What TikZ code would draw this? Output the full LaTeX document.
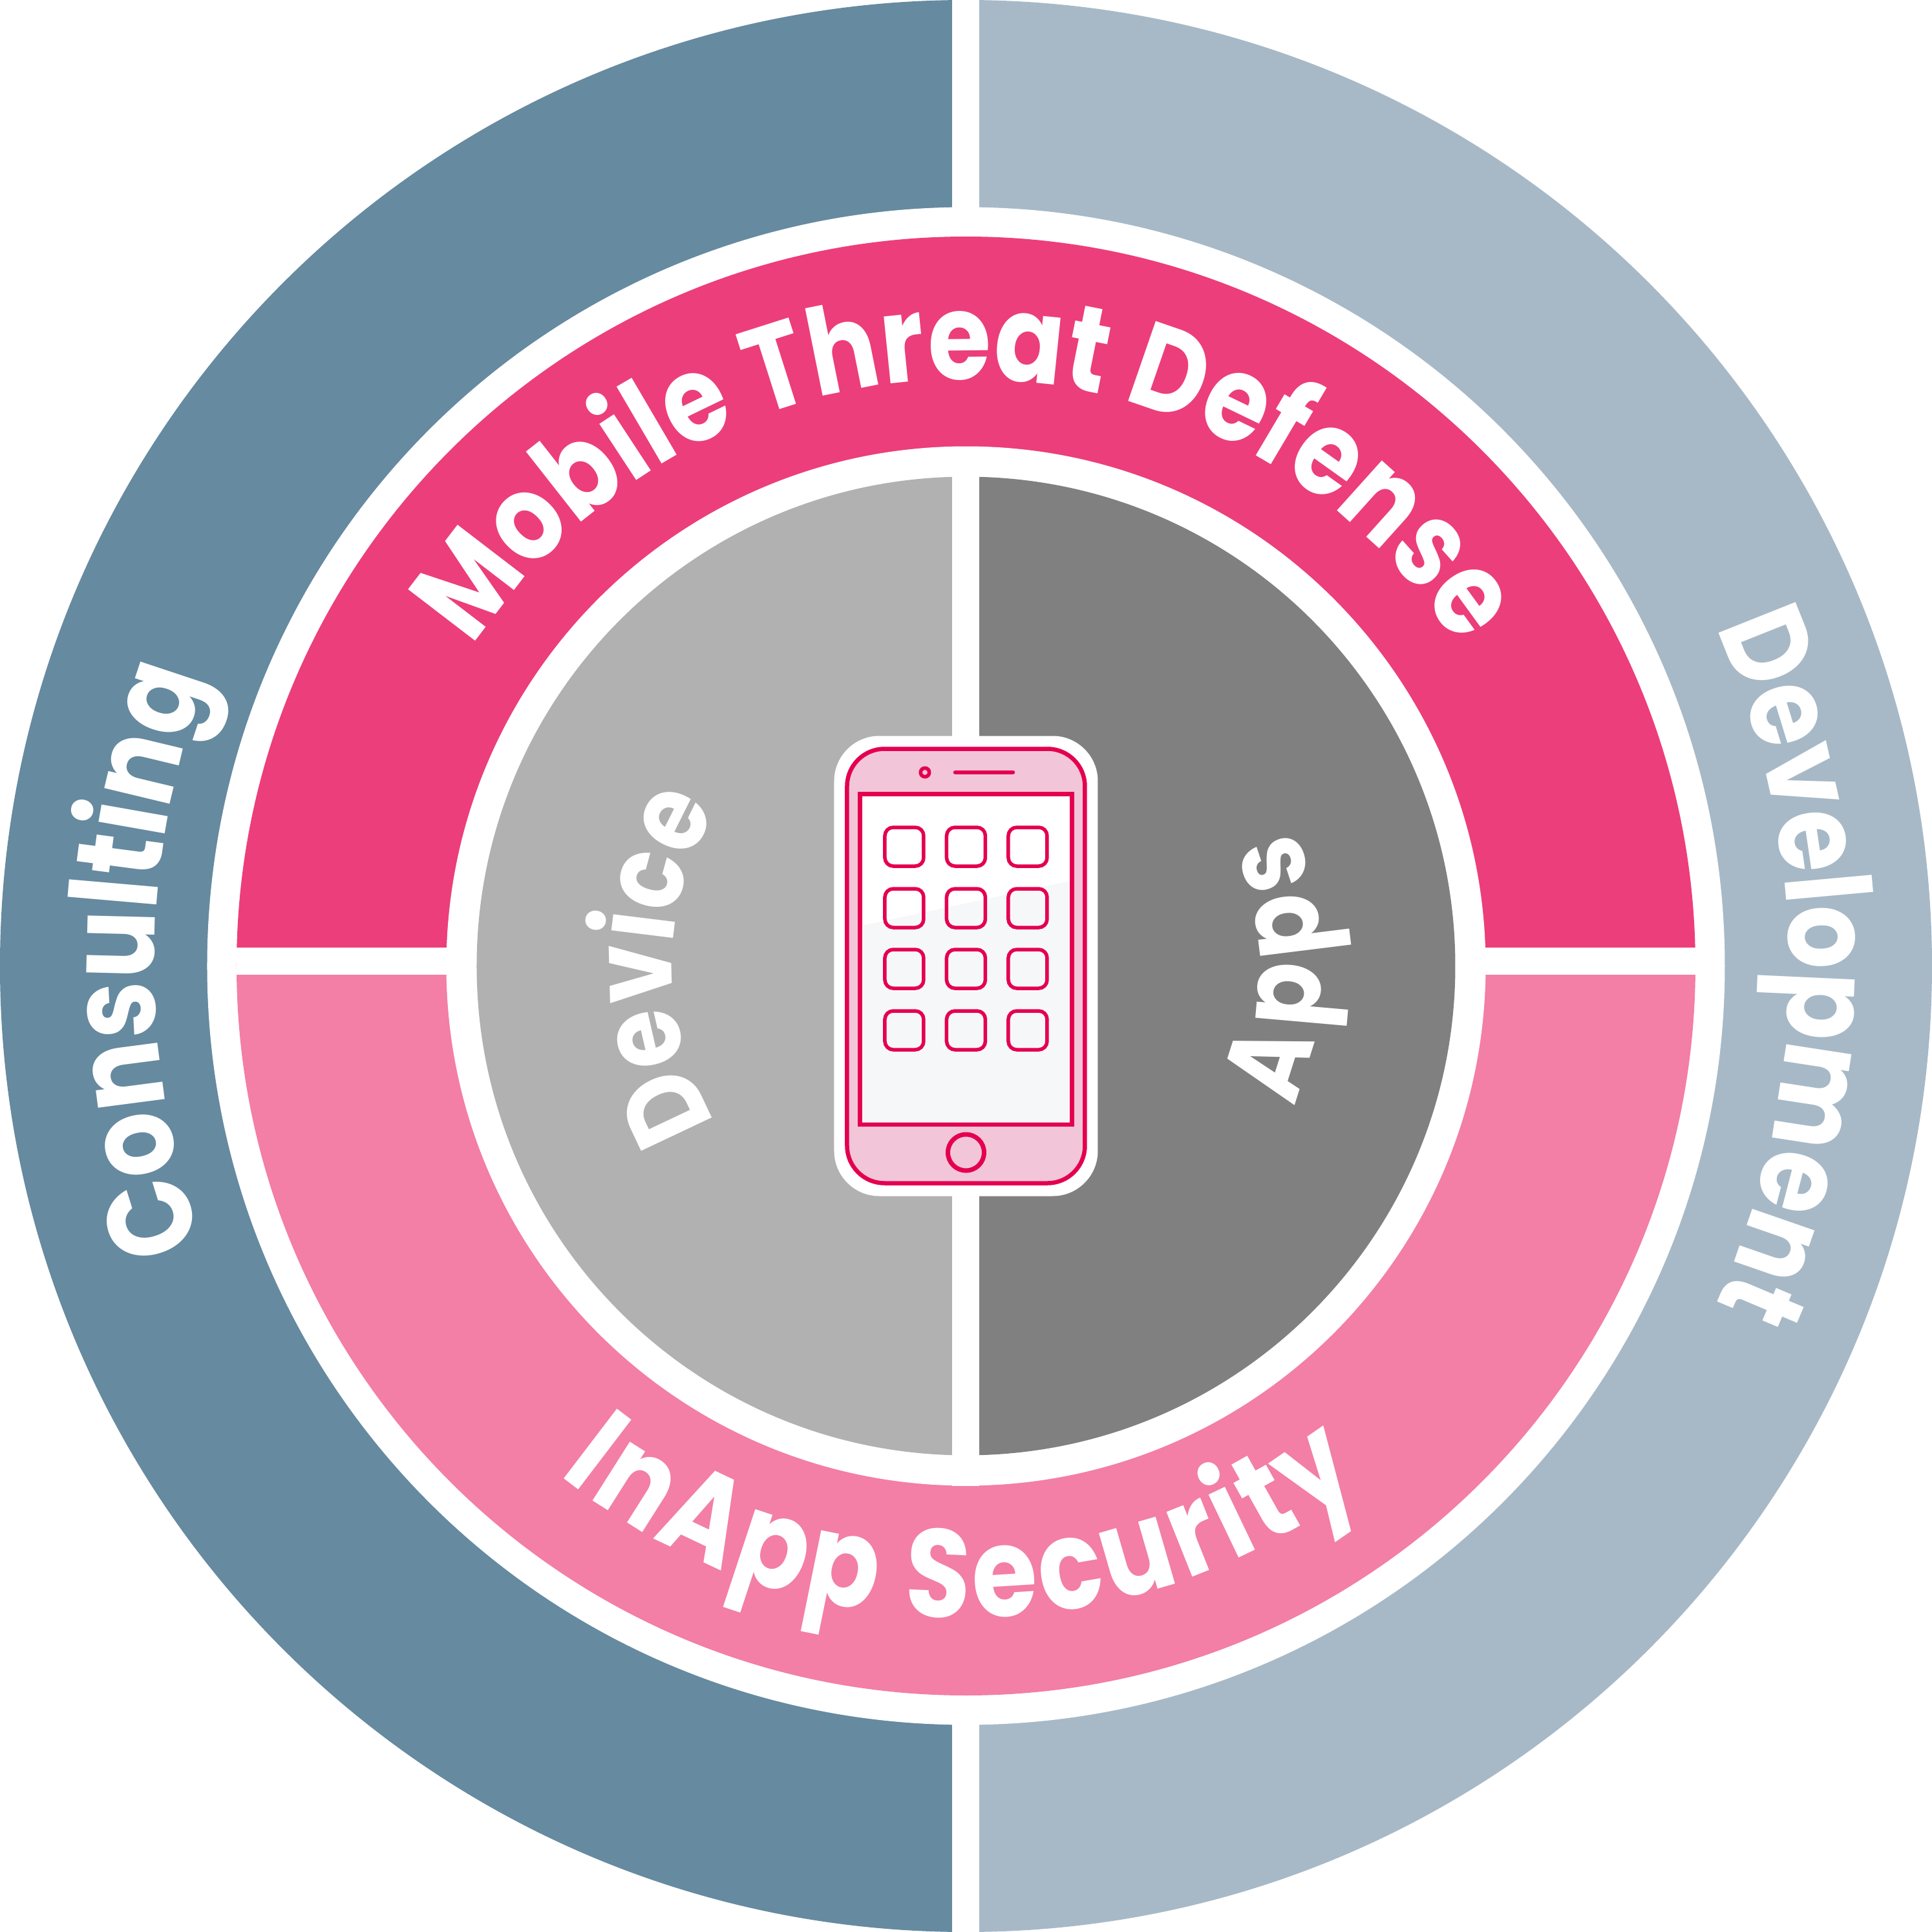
\documentclass[tikz,border=0pt]{standalone}
\usepackage{fontspec}
\usetikzlibrary{positioning}
\usetikzlibrary{decorations.text}
\newfontfamily\ringfam{Poppins}[FakeStretch=0.85]
\newcommand{\ringfont}[1]{\ringfam\bfseries\fontsize{#1}{60}\selectfont\color{white}}
\newcommand{\ringtext}[5][53]{\path[decorate,decoration={text along path,text align={fit to path},text={|\ringfont{#1}|#5}}] (#3:#2) arc[start angle=#3,end angle=#4,radius=#2];}
\definecolor{tealdark}{HTML}{668AA0}
\definecolor{teallight}{HTML}{A7B9C7}
\definecolor{pinkdark}{HTML}{EC3E7A}
\definecolor{pinklight}{HTML}{F37EA6}
\definecolor{greylight}{HTML}{B1B1B1}
\definecolor{greydark}{HTML}{808080}
\definecolor{phoneline}{HTML}{E4004F}
\definecolor{phonefill}{HTML}{F2C6D8}
\definecolor{screenlow}{HTML}{F6F7F9}
\begin{document}
\begin{tikzpicture}[
phonepart/.style ={rectangle, draw=phoneline, line width=0.065cm, inner sep=0, outer sep=0},
appicon/.style ={phonepart, line width=0.055cm, minimum width=0.6cm, minimum height=0.6cm, rounded corners=0.13cm}]
\useasboundingbox (-14.945,-14.945) rectangle (14.945,14.945);
\fill[tealdark] (0,-14.945) arc[start angle=-90,end angle=-270,radius=14.945] -- cycle;
\fill[teallight] (0,-14.945) arc[start angle=-90,end angle=90,radius=14.945] -- cycle;
\fill[white] (-0.21,-14.945) rectangle (0.21,14.945);
\fill[white] (0,0) circle (11.74);
\fill[pinkdark] (-11.285,0) arc[start angle=180,end angle=0,radius=11.285] -- cycle;
\fill[pinklight] (-11.285,0) arc[start angle=180,end angle=360,radius=11.285] -- cycle;
\fill[white] (-11.285,-0.135) rectangle (11.285,0.285);
\fill[white] (0,0) circle (8.04);
\fill[greylight] (0,-7.57) arc[start angle=-90,end angle=-270,radius=7.57] -- cycle;
\fill[greydark] (0,-7.57) arc[start angle=-90,end angle=90,radius=7.57] -- cycle;
\fill[white] (-0.21,-8.04) rectangle (0.21,8.04);
\ringtext{9.08}{147.1}{34}{Mobile Threat Defense}
\ringtext[55]{10.08}{231.3}{307.5}{InApp Security}
\ringtext{12.56}{200}{159.3}{Consulting}
\ringtext[52]{12.73}{24.3}{-23.7}{Development}
\ringtext[49]{4.55}{212}{149}{Device}
\ringtext[49]{5.5}{-23.2}{22.5}{Apps}
\node[fill=white, rectangle, rounded corners=0.7cm, inner sep=0, minimum width=4.08cm, minimum height=7.12cm] (phoneback) at (0,0) {};
\node[phonepart, fill=phonefill, rounded corners=0.58cm, minimum width=3.68cm, minimum height=6.72cm] (phone) at (0,0) {};
\node[phonepart, fill=white, minimum width=3.28cm, minimum height=5.11cm] (screen) at (0,0.105) {};
\fill[screenlow] (-1.605,0.625) -- (1.605,1.315) -- (1.605,-2.42) -- (-1.605,-2.42) -- cycle;
\foreach \row/\y in {1/1.845, 2/0.895, 3/-0.045, 4/-0.995}
  \foreach \col/\x in {1/-0.955, 2/0, 3/0.955}
    \node[appicon] (icon\row\col) at (\x,\y) {};
\node[phonepart, circle, line width=0.055cm, minimum size=0.135cm] (camera) at (-0.635,2.995) {};
\coordinate (speakerl) at (-0.165,2.995);
\coordinate (speakerr) at (0.725,2.995);
\draw[phoneline, line width=0.065cm, line cap=round] (speakerl) -- (speakerr);
\node[phonepart, circle, line width=0.07cm, minimum size=0.56cm] (homebutton) at (0,-2.885) {};
\end{tikzpicture}
\end{document}
